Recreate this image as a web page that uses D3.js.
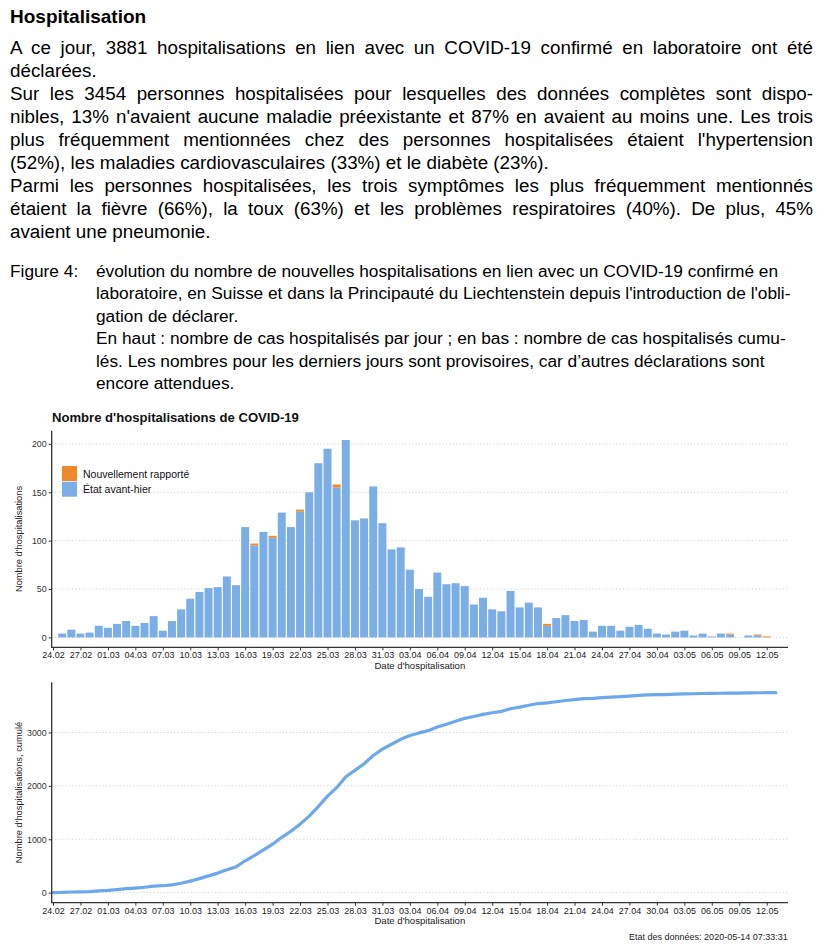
<!DOCTYPE html>
<html><head><meta charset="utf-8">
<script src="https://cdn.jsdelivr.net/npm/d3@7"></script>
<style>
body{margin:0;background:#fff;font-family:"Liberation Sans",Arial,sans-serif;}
#wrap{position:relative;width:824px;height:950px;overflow:hidden;background:#fff}
.ln{position:absolute;left:10px;width:803px;white-space:nowrap;font-size:18.8px;line-height:23px;color:#000}
.j{text-align:justify;text-align-last:justify}
.hd{position:absolute;left:10px;top:5px;font-size:19px;font-weight:bold;line-height:23px}
.cap{position:absolute;left:96px;white-space:nowrap;font-size:17.3px;line-height:22px;color:#000}
.figl{position:absolute;left:10px;font-size:17.3px;line-height:22px}
svg{position:absolute;left:0;top:0}
</style></head>
<body><div id="wrap"></div>
<script>
// ---------- data ----------
const startDate = "2020-02-24";
const endDate = "2020-05-13";
// État avant-hier (blue), one value per day from 24.02 to 13.05
const etatAvantHier = [
  0,4,8,4,5,12,
  10,14,17,12,15,22,7,17,29,40,47,51,52,63,54,114,95,109,103,129,114,130,150,180,195,155,204,121,123,156,118,
  91,93,70,50,42,67,55,56,53,34,41,29,27,48,31,36,31,12,20,23,17,18,6,12,12,7,11,13,9,4,
  3,6,7,2,4,1,4,3,0,2,2,0,0
];
// Nouvellement rapporté (orange)
const nouvellementRapporte = [
  0,0,0,0,0,0,
  0,0,0,0,0,0,0,0,0,0,0,0,0,0,0,0,2,0,2,0,0,2,0,0,0,3,0,0,0,0,0,
  0,0,0,0,0,0,0,0,0,0,0,0,0,0,0,0,0,2,0,0,0,0,0,0,0,0,0,0,0,0,
  0,0,0,0,0,0,0,1,0,0,1,1,0
];
const yTicksDaily = [0,50,100,150,200];
const yTicksCum = [0,1000,2000,3000];
const legendLabels = ["Nouvellement rapporté","État avant-hier"];
const colors = {orange:"#f0892a", blue:"#7caee6", line:"#6da8ea"};

const bodyLines = [
  ["A ce jour, 3881 hospitalisations en lien avec un COVID-19 confirmé en laboratoire ont été", true],
  ["déclarées.", false],
  ["Sur les 3454 personnes hospitalisées pour lesquelles des données complètes sont dispo-", true],
  ["nibles, 13% n'avaient aucune maladie préexistante et 87% en avaient au moins une. Les trois", true],
  ["plus fréquemment mentionnées chez des personnes hospitalisées étaient l'hypertension", true],
  ["(52%), les maladies cardiovasculaires (33%) et le diabète (23%).", false],
  ["Parmi les personnes hospitalisées, les trois symptômes les plus fréquemment mentionnés", true],
  ["étaient la fièvre (66%), la toux (63%) et les problèmes respiratoires (40%). De plus, 45%", true],
  ["avaient une pneumonie.", false]
];
const captionLines = [
  "évolution du nombre de nouvelles hospitalisations en lien avec un COVID-19 confirmé en",
  "laboratoire, en Suisse et dans la Principauté du Liechtenstein depuis l'introduction de l'obli-",
  "gation de déclarer.",
  "En haut : nombre de cas hospitalisés par jour ; en bas : nombre de cas hospitalisés cumu-",
  "lés. Les nombres pour les derniers jours sont provisoires, car d’autres déclarations sont",
  "encore attendues."
];

// ---------- text ----------
const wrap = d3.select("#wrap");
wrap.append("div").attr("class","hd").text("Hospitalisation");
bodyLines.forEach((l,i)=>{
  wrap.append("div").attr("class","ln"+(l[1]?" j":"")).style("top",(36+i*23)+"px").text(l[0]);
});
wrap.append("div").attr("class","figl").style("top","260px").text("Figure 4:");
captionLines.forEach((l,i)=>{
  wrap.append("div").attr("class","cap").style("top",(260+i*22.4)+"px").text(l);
});

// ---------- charts ----------
const parse = d3.utcParse("%Y-%m-%d");
const days = d3.utcDay.range(parse(startDate), d3.utcDay.offset(parse(endDate),1));
const data = days.map((d,i)=>({date:d, blue:etatAvantHier[i], orange:nouvellementRapporte[i]}));
const cum = d3.cumsum(data, d=>d.blue+d.orange);

const svg = wrap.append("svg").attr("width",824).attr("height",950)
  .style("font-family",'"Liberation Sans",Arial,sans-serif');

const L = 51.7, R = 788;
const x = d3.scaleUtc().domain([parse("2020-02-24"), parse("2020-05-12")]).range([53, 766.7]);
const tickDates = d3.utcDay.range(parse("2020-02-24"), parse("2020-05-13"), 3);
const fmt = d3.utcFormat("%d.%m");

function frame(y, ticks){
  const g = svg.append("g");
  g.selectAll("line.grid").data(ticks).join("line")
    .attr("x1",L).attr("x2",R).attr("y1",d=>y(d)).attr("y2",d=>y(d))
    .attr("stroke","#c4c4c4").attr("stroke-width",0.9).attr("stroke-dasharray","1,2.4");
  return g;
}
function axes(y, ticks, top, bottom, ylab, ylabY, xlabY){
  const ya = svg.append("g").attr("transform",`translate(${L},0)`)
    .call(d3.axisLeft(y).tickValues(ticks).tickFormat(d3.format("d")).tickSize(3).tickPadding(2));
  ya.select(".domain").remove();
  ya.selectAll("text").attr("font-size",8.9).attr("fill","#333");
  ya.selectAll("line").attr("stroke","#333");
  const xa = svg.append("g").attr("transform",`translate(0,${bottom})`)
    .call(d3.axisBottom(x).tickValues(tickDates).tickFormat(fmt).tickSize(3).tickPadding(1.5));
  xa.select(".domain").remove();
  xa.selectAll("text").attr("font-size",9).attr("fill","#222");
  xa.selectAll("line").attr("stroke","#333");
  svg.append("line").attr("x1",L).attr("x2",L).attr("y1",top).attr("y2",bottom)
    .attr("stroke","#333").attr("stroke-width",1.3);
  svg.append("line").attr("x1",L-0.6).attr("x2",R).attr("y1",bottom).attr("y2",bottom)
    .attr("stroke","#333").attr("stroke-width",1.3);
  svg.append("text").attr("transform",`translate(22,${ylabY}) rotate(-90)`)
    .attr("text-anchor","middle").attr("font-size",9.3).attr("fill","#222").text(ylab);
  svg.append("text").attr("x",(L+R)/2).attr("y",xlabY).attr("text-anchor","middle")
    .attr("font-size",9.6).attr("fill","#222").text("Date d'hospitalisation");
}

// top chart
const topT = 430.7, topB = 647.3;
const y1 = d3.scaleLinear().domain([-10.2, 213.6]).range([topB, topT]);
frame(y1, yTicksDaily);
const bw = 8;
svg.append("g").selectAll("rect").data(data.filter(d=>d.blue>0)).join("rect")
  .attr("x",d=>x(d.date)-bw/2).attr("width",bw)
  .attr("y",d=>y1(d.blue)).attr("height",d=>y1(0)-y1(d.blue)).attr("fill",colors.blue);
svg.append("g").selectAll("rect").data(data.filter(d=>d.orange>0)).join("rect")
  .attr("x",d=>x(d.date)-bw/2).attr("width",bw)
  .attr("y",d=>y1(d.blue+d.orange)).attr("height",d=>y1(d.blue)-y1(d.blue+d.orange)).attr("fill",colors.orange);
axes(y1, yTicksDaily, topT, topB, "Nombre d'hospitalisations", (topT+topB)/2, 669);
svg.append("text").attr("x",52).attr("y",422).attr("font-size",13.1).attr("font-weight","bold")
  .attr("fill","#111").text("Nombre d'hospitalisations de COVID-19");
// legend
const lg = svg.append("g");
[colors.orange, colors.blue].forEach((c,i)=>{
  lg.append("rect").attr("x",62).attr("y",466+i*15.7).attr("width",15).attr("height",15).attr("fill",c);
  lg.append("text").attr("x",83).attr("y",477.5+i*15.7).attr("font-size",10.5).attr("fill","#111").text(legendLabels[i]);
});

// bottom chart
const botT = 682.3, botB = 902.7;
const y2 = d3.scaleLinear().domain([-188, 3940]).range([botB, botT]);
frame(y2, yTicksCum);
svg.append("path").datum(data.map((d,i)=>[d.date, cum[i]]))
  .attr("fill","none").attr("stroke",colors.line).attr("stroke-width",3.2)
  .attr("stroke-linecap","round").attr("stroke-linejoin","round")
  .attr("d", d3.line().x(d=>x(d[0])).y(d=>y2(d[1])));
axes(y2, yTicksCum, botT, botB, "Nombre d'hospitalisations, cumulé", (botT+botB)/2, 924);
svg.append("text").attr("x",787.7).attr("y",939.5).attr("text-anchor","end")
  .attr("font-size",9).attr("fill","#222").text("Etat des données: 2020-05-14 07:33:31");
</script>
</body></html>
